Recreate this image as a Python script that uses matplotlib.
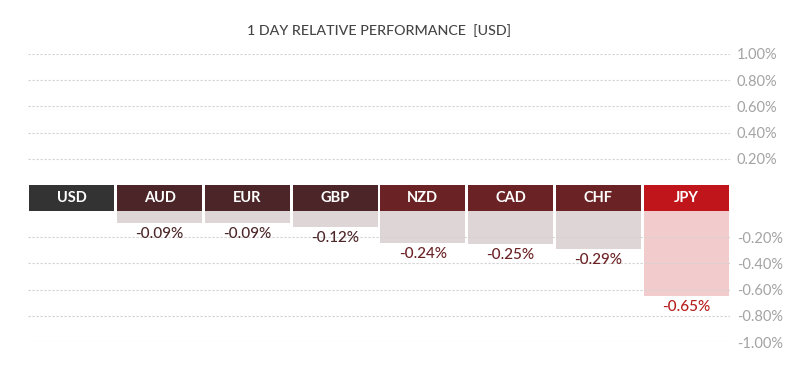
import matplotlib.pyplot as plt
from matplotlib.ticker import FixedLocator, FixedFormatter

plt.rcParams['font.family'] = ['Lato', 'DejaVu Sans']

# data
currencies = ["USD", "AUD", "EUR", "GBP", "NZD", "CAD", "CHF", "JPY"]
changes = [0.0, -0.09, -0.09, -0.12, -0.24, -0.25, -0.29, -0.65]
header_colors = ["#333333", "#4b2527", "#4b2527", "#4b2527",
                 "#6b2224", "#6b2224", "#6b2224", "#c0161b"]
bar_colors = ["#ddd5d6"] * 7 + ["#f2cccd"]
label_colors = ["#4b2527"] * 4 + ["#6b2224"] * 3 + ["#b71c1c"]

pos_ticks = [0.2, 0.4, 0.6, 0.8, 1.0]
neg_ticks = [-0.2, -0.4, -0.6, -0.8, -1.0]
band = 0.2  # header row takes the room of one 0.2% step

fig = plt.figure(figsize=(8, 3.76), dpi=100)
ax = fig.add_axes([0.035, 0.0904, 0.8775, 0.766])
ax.set_xlim(-0.5, len(currencies) - 0.5)
ax.set_ylim(-1.0 - band, 1.0)

w = 0.966
x = range(len(currencies))

# gridlines
grid_y = pos_ticks + [t - band for t in neg_ticks]
for gy in grid_y:
    ax.axhline(gy, color="#d2d2d2", lw=0.8, ls=(0, (2, 1.6)), zorder=2)

# value bars hanging under the header row
ax.bar(x, changes, width=w, bottom=-band, color=bar_colors, zorder=1)

# header row
ax.bar(x, [-band] * len(currencies), width=w, bottom=0, color=header_colors, zorder=3)
for i, c in enumerate(currencies):
    ax.text(i, -band / 2, c, ha="center", va="center", color="white",
            fontsize=10.5, fontweight="bold", zorder=4)

# value labels
for i, v in enumerate(changes):
    if i == 0:
        continue
    ax.annotate(f"{v:.2f}%", (i, v - band), xytext=(0, -3), textcoords="offset points",
                ha="center", va="top", color=label_colors[i], fontsize=11,
                fontweight="medium", zorder=4)

ax.yaxis.tick_right()
ax.yaxis.set_major_locator(FixedLocator(grid_y))
ax.yaxis.set_major_formatter(FixedFormatter([f"{t:.2f}%" for t in pos_ticks] +
                                            [f"{t:.2f}%" for t in neg_ticks]))
ax.tick_params(axis="y", length=0, pad=5, labelsize=10.5, labelcolor="#a3a3a3")
ax.set_xticks([])
for s in ax.spines.values():
    s.set_visible(False)

fig.text(0.474, 0.92, "1 DAY RELATIVE PERFORMANCE  [USD]", ha="center", va="center",
         fontsize=10.3, color="#444444", fontweight="medium")

fig.savefig("out.png", dpi=100, facecolor="white")
